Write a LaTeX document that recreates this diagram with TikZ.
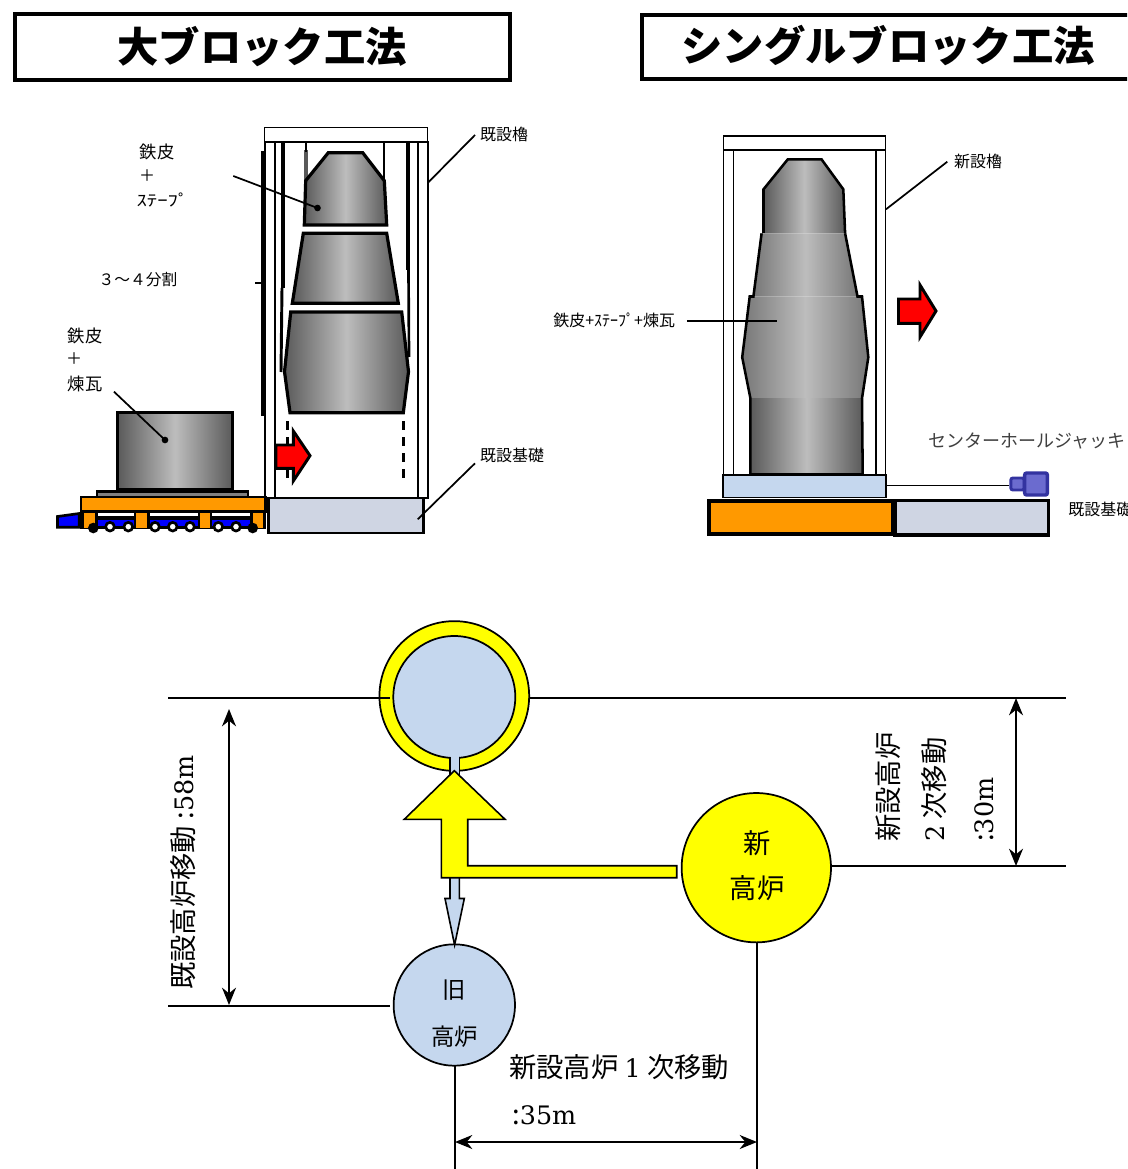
\documentclass[tikz,border=0pt]{standalone}
\usepackage{fontspec}
\setmainfont{Noto Sans CJK JP}
\newfontfamily\serifL[Scale=0.93]{DejaVu Serif}
\usetikzlibrary{arrows.meta}
\definecolor{ora}{HTML}{FF9900}
\definecolor{fnd}{HTML}{CFD5E3}
\definecolor{lblue}{HTML}{C5D7EE}
\definecolor{jackf}{HTML}{6B6BCF}
\definecolor{jackd}{HTML}{3333A0}
\definecolor{dk}{HTML}{5A5A5A}
\definecolor{md}{HTML}{777777}
\definecolor{lt}{HTML}{BDBDBD}
\definecolor{yel}{HTML}{FFFF00}
\definecolor{pblue}{HTML}{0000FF}
\definecolor{pred}{HTML}{FF0000}
\tikzset{
 x=0.75pt,y=-0.75pt,
 titlebox/.style={draw=black,line width=3pt,fill=white},
 postbox/.style={draw=black,line width=1.4pt,fill=white},
 blockd/.style={draw=black,line width=2.4pt,left color=dk,right color=dk,middle color=lt},
 sectd/.style={left color=dk,right color=dk,middle color=lt},
 sectm/.style={left color=md,right color=md,middle color=lt},
 edge1/.style={draw=black,line width=1.9pt},
 leader/.style={draw=black,line width=1.3pt},
 redarrow/.style={draw=black,line width=2.2pt,fill=pred,line join=miter},
 wheel/.style={draw=black,line width=2pt,fill=white,circle,inner sep=0pt,minimum size=6.5pt},
 wheelb/.style={fill=black,circle,inner sep=0pt,minimum size=8pt},
 lab/.style={inner sep=0pt,font=\fontsize{12}{14}\selectfont},
 labb/.style={inner sep=0pt,font=\fontsize{13}{15}\selectfont},
 big/.style={inner sep=0pt,font=\fontsize{20.5}{24}\selectfont},
 dot/.style={fill=black,circle,inner sep=0pt,minimum size=5pt},
 mline/.style={draw=black,line width=1.4pt},
 dim/.style={draw=black,line width=1.5pt,{Stealth[length=13pt,width=10.5pt]}-{Stealth[length=13pt,width=10.5pt]}},
 furn/.style={circle,draw=black,line width=1.3pt,inner sep=0pt},
 flow/.style={draw=black,line width=1.2pt,line join=miter},
}
\begin{document}
\begin{tikzpicture}
\useasboundingbox (0,0) rectangle (1127,1169);
\clip (0,0) rectangle (1127,1169);
% titles
\node[titlebox,minimum width=371pt,minimum height=49.5pt,inner sep=0pt,anchor=north west] (t1) at (13,12) {};
\node[font=\fontsize{31}{36}\bfseries,inner sep=0pt] (t1t) at (262,47) {大ブロック工法};
\node[titlebox,minimum width=400pt,minimum height=48.2pt,inner sep=0pt,anchor=north west] (t2) at (640,13) {};
\node[font=\fontsize{31}{36}\bfseries,inner sep=0pt] (t2t) at (888,46) {シングルブロック工法};
% left tower
\draw[postbox] (265,142) rectangle (275,498);
\draw[postbox] (418,142) rectangle (428,498);
\draw[postbox] (264.5,127.5) rectangle (427.5,142);
\draw[line width=1.6pt] (262.5,151) -- (262.5,416);
\draw[line width=1.1pt] (255,283) -- (263,283);
\draw[line width=3.2pt] (283,142) -- (283,288);
\draw[line width=2.2pt] (282,288) -- (281,372);
\draw[line width=3.2pt] (408,142) -- (408,270);
\draw[line width=2pt] (408.5,270) -- (409,357);
\draw[line width=3pt,draw=gray!70!black] (306,150) -- (306,182);
\draw[line width=1pt] (306,142) -- (306,152);
\draw[line width=1pt] (384,142) -- (384,182);
% blocks
\path[blockd] (328.3,152.7) -- (362.7,152.7) -- (384.3,180.7) -- (386.7,225) -- (304.3,225) -- (305.7,180.7) -- cycle;
\path[blockd] (303.3,233.3) -- (386.7,233.3) -- (398.3,303.3) -- (292.3,303.3) -- cycle;
\path[blockd] (290.7,312) -- (401.7,312) -- (408.5,371.7) -- (403.3,412.7) -- (290,412.7) -- (284.5,371.7) -- cycle;
\draw[line width=2pt,dash pattern=on 7pt off 5pt] (287.7,421) -- (287.7,485);
\draw[line width=2pt,dash pattern=on 7pt off 5pt] (403.3,421) -- (403.3,485);
\path[redarrow] (276,445) -- (293.3,445) -- (293.3,431) -- (310,455.7) -- (293.3,481) -- (293.3,468.3) -- (276,468.3) -- cycle;
% carriage
\fill[black] (80,511) rectangle (266,528.5);
\draw[line width=2pt,fill=pblue] (57.5,516.5) -- (79.3,513.5) -- (79.3,527.3) -- (57.5,527.3) -- cycle;
\draw[line width=2.2pt,fill=gray] (97,491.5) rectangle (248,497);
\path[blockd] (117.5,412.5) rectangle (232.5,490);
\draw[line width=2.2pt,fill=ora] (81,497) rectangle (265.5,511.5);
\foreach \a/\b in {83.5/95,136/146.5,200/209.5,253/263}{\fill[ora] (\a,512.5) rectangle (\b,527.5);}
\foreach \a/\b in {97.5/133.5,149.5/197.5,212/250}{
  \fill[white] (\a,512.5) rectangle (\b,515.5);
  \fill[pblue] (\a,519.5) rectangle (\b,525.5);}
\foreach \n/\px in {w2/110,w3/128.3,w4/155,w5/172.7,w6/190,w7/218.3,w8/236}{\node[wheel] (\n) at (\px,526.7) {};}
\node[wheelb] (w1) at (93.3,528) {};
\node[wheelb] (w9) at (252.7,528) {};
\draw[line width=2.2pt,fill=fnd] (268.5,498) rectangle (423.5,533);
% left labels
\node[labb] (l1) at (157,152) {鉄皮};
\node[lab] (l2) at (147,176) {＋};
\node[lab] (l3) at (162.5,200) {\scalebox{1.3}[1]{ｽﾃｰﾌﾟ}};
\node[lab,font=\fontsize{11.8}{14}\selectfont] (l4) at (138,280) {３〜４分割};
\node[labb] (l5) at (85,336) {鉄皮};
\node[lab] (l6) at (74,359) {＋};
\node[labb] (l7) at (85,384) {煉瓦};
\node[lab] (l8) at (504,134) {既設櫓};
\node[lab] (l9) at (512,455) {既設基礎};
\node[dot] (d1) at (317.5,208) {};
\node[dot] (d2) at (165,440) {};
\coordinate (c1) at (233.3,176);
\coordinate (c2) at (114,391.7);
\coordinate (c3) at (475,135);
\coordinate (c4) at (428,182.7);
\coordinate (c5) at (475,463.3);
\coordinate (c6) at (417.7,519.3);
\draw[leader] (c1) -- (d1.center);
\draw[leader] (c2) -- (d2.center);
\draw[leader] (c3) -- (c4);
\draw[leader] (c5) -- (c6);
% right tower
\draw[postbox] (723.5,150) rectangle (733.5,475);
\draw[postbox] (876,150) rectangle (885.5,475);
\draw[postbox] (723.5,136) rectangle (885.5,150);
\path[sectd] (787.8,159.3) -- (821.5,159.3) -- (843.3,189.3) -- (845.1,233.3) -- (763.5,233.3) -- (763.5,189.3) -- cycle;
\path[sectm] (761.6,233.3) -- (845.1,233.3) -- (857.5,296.5) -- (753.4,296.5) -- cycle;
\path[sectm] (749.7,296.5) -- (862,296.5) -- (868.3,357.3) -- (862,398.3) -- (750.4,398.3) -- (742.2,357.3) -- cycle;
\path[sectd] (750.4,398.3) rectangle (862.7,474);
\draw[edge1,line join=miter] (763.5,233) -- (763.5,189.3) -- (787.8,159.3) -- (821.5,159.3) -- (843.3,189.3) -- (845.1,233.3);
\draw[edge1] (845.1,233.3) -- (857.5,296.5) -- (862,296.5) -- (868.3,357.3) -- (862,398.3) -- (862.7,474);
\draw[edge1] (761.6,233.3) -- (753.4,296.5) -- (749.7,296.5) -- (742.2,357.3) -- (750.4,398.3) -- (750.4,474);
\draw[line width=1.8pt] (750,474.5) -- (863,474.5);
\draw[postbox,fill=lblue] (722.7,475) rectangle (886.3,497.5);
\coordinate (j0) at (886.3,485.5);
\node[draw=jackd,line width=2.2pt,fill=jackf,rounded corners=1.5pt,minimum width=10pt,minimum height=9pt,inner sep=0pt] (jack1) at (1017.5,484) {};
\node[draw=jackd,line width=2.6pt,fill=jackf,rounded corners=1.5pt,minimum width=17pt,minimum height=16.5pt,inner sep=0pt] (jack2) at (1036,484) {};
\draw[leader] (j0) -- (j0 -| jack1.west);
\draw[line width=3pt,fill=ora] (709,500.5) rectangle (892.5,533.5);
\draw[line width=2.4pt,fill=fnd] (895,500.5) rectangle (1048.5,535);
\path[redarrow] (898.5,299) -- (920,299) -- (920,285) -- (936,311) -- (920,337) -- (920,323.3) -- (898.5,323.3) -- cycle;
\node[lab] (r1) at (978,161) {新設櫓};
\node[lab,anchor=west] (r2) at (553,320) {鉄皮+ｽﾃｰﾌﾟ+煉瓦};
\node[inner sep=0pt,font=\fontsize{13.5}{16}\selectfont\addfontfeatures{Color=404040},anchor=west] (r3) at (928,441) {センターホールジャッキ};
\node[lab,anchor=west] (r4) at (1068,509) {既設基礎};
\coordinate (e1) at (947.3,161.7);
\coordinate (e2) at (886,209.3);
\coordinate (e3) at (686.8,321);
\coordinate (e4) at (776.6,321);
\draw[leader] (e1) -- (e2);
\draw[leader] (e3) -- (e4);
% plan: guide lines
\coordinate (a1) at (168,698); \coordinate (a2) at (390,698);
\coordinate (a3) at (530,698); \coordinate (a4) at (1066,698);
\coordinate (a5) at (831,866); \coordinate (a6) at (1066,866);
\coordinate (a7) at (168,1006); \coordinate (a8) at (390,1006);
\coordinate (v1) at (455,1065); \coordinate (v2) at (455,1175);
\coordinate (v3) at (757,943); \coordinate (v4) at (757,1175);
\coordinate (m1) at (229,709); \coordinate (m2) at (229,1005);
\coordinate (m3) at (1016,698); \coordinate (m4) at (1016,866);
\coordinate (m5) at (455,1142); \coordinate (m6) at (757,1142);
\node[furn,fill=yel,minimum size=112.3pt] (outer) at (454.3,696) {};
\node[furn,fill=lblue,minimum size=91.5pt] (inner) at (454.3,697) {};
\node[furn,fill=yel,minimum size=112pt] (newf) at (756.3,867.7) {};
\node[furn,fill=lblue,minimum size=91pt] (oldf) at (454.3,1005) {};
\node[inner sep=0pt,font=\fontsize{20.5}{24}\selectfont] (nf1) at (757,843) {新};
\node[inner sep=0pt,font=\fontsize{20.5}{24}\selectfont] (nf2) at (757,888) {高炉};
\node[inner sep=0pt,font=\fontsize{17.5}{24}\selectfont] (of1) at (454.5,990) {旧};
\node[inner sep=0pt,font=\fontsize{17.5}{24}\selectfont] (of2) at (454.5,1037) {高炉};
\draw[mline] (a1) -- (a2);
\draw[mline] (a3) -- (a4);
\draw[mline] (a5) -- (a6);
\draw[mline] (a7) -- (a8);
\draw[mline] (v1) -- (v2);
\draw[mline] (v3) -- (v4);
\draw[dim] (m1) -- (m2);
\draw[dim] (m3) -- (m4);
\draw[dim] (m5) -- (m6);
\fill[lblue] (450,755) rectangle (459.3,775);
\draw[flow] (450,756.5) -- (450,775);
\draw[flow] (459.3,756.5) -- (459.3,775);
\draw[flow,fill=lblue] (450,877) -- (459.3,877) -- (459.3,898.5) -- (464.3,898.5) -- (454.6,945) -- (445,898.5) -- (450,898.5) -- cycle;
\draw[flow,fill=yel] (454.3,770.7) -- (505,819.3) -- (467.7,819.3) -- (467.7,865.7) -- (676.7,865.7) -- (676.7,877.7) -- (441.3,877.7) -- (441.3,819.3) -- (404.3,819.3) -- cycle;
% plan labels
\node[big,rotate=90,anchor=west] (p1) at (183,990) {既設高炉移動\hspace{5pt}:{\serifL 58m}};
\node[big,rotate=90,anchor=west] (p2) at (888,842) {新設高炉};
\node[big,rotate=90,anchor=west] (p3) at (934,842) {{\serifL 2} 次移動};
\node[big,rotate=90,anchor=west] (p4) at (984,842) {:{\serifL 30m}};
\node[big,anchor=west] (p5) at (509,1067) {新設高炉 {\serifL 1} 次移動};
\node[big,anchor=west] (p6) at (512,1115) {:{\serifL 35m}};
\end{tikzpicture}
\end{document}
